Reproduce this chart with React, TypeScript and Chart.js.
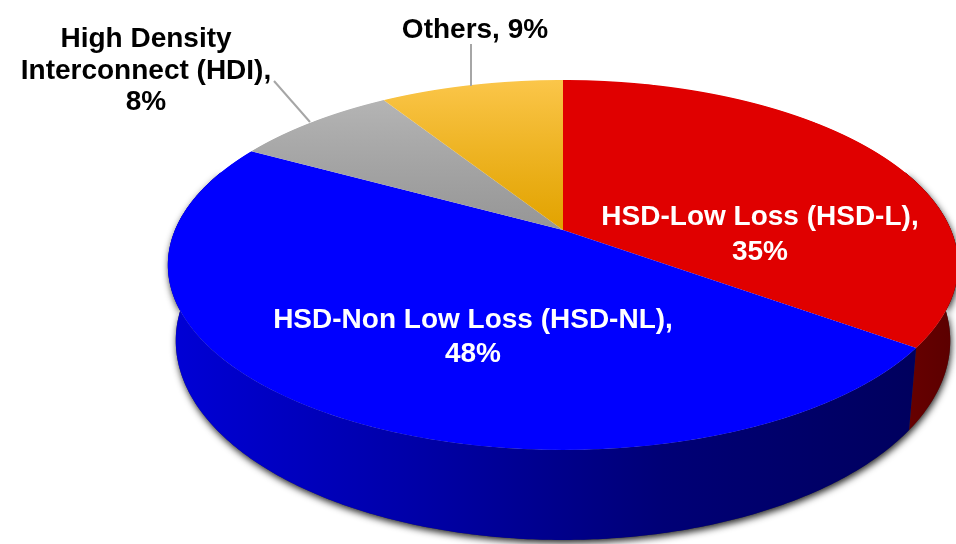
import React, { useEffect, useRef } from "react";
import { Chart, registerables } from "chart.js";

Chart.register(...registerables);

// ---------- data ----------
const categories = [
  "HSD-Low Loss (HSD-L)",
  "HSD-Non Low Loss (HSD-NL)",
  "High Density Interconnect (HDI)",
  "Others",
];
const shares = [35, 48, 8, 9];

// ---------- styles / layout ----------
const W = 956;
const H = 544;
const TOP_COLORS = [
  ["#e00000", "#e00000"],
  ["#0000ff", "#0000ff"],
  ["#bababa", "#969696"],
  ["#fbc64a", "#e2a300"],
];
const SIDE_COLORS = [
  ["#6e0000", "#580000"],
  ["#0000d8", "#0000a8", "#000076", "#00005e"],
];
// perspective projection of the unit disc: y(v) = (A v + B) / (C v + 1)
const CX = 563;
const PA = 134.9;
const PB = 230;
const PC = -0.189;
const RX = 388;
const DEPTH = 73;
const BOTTOM_SCALE = 0.98;

// label layout: centre x, first baseline, line height, colour, line split mode
const LABEL_LAYOUT = [
  { x: 760, y: 225, lh: 35, color: "#ffffff", mode: "two" },
  { x: 473, y: 328, lh: 34, color: "#ffffff", mode: "two" },
  { x: 146, y: 47, lh: 31.5, color: "#000000", mode: "three" },
  { x: 475, y: 38, lh: 30, color: "#000000", mode: "one" },
];
const LEADERS = [
  [null],
  [null],
  [274, 81, 310, 122],
  [471, 44, 471, 86],
];

function proj(u: number, v: number) {
  const d = 1 + PC * v;
  return { x: CX + (RX * u) / d, y: (PA * v + PB) / d };
}
function invY(y: number) {
  return (PB - y) / (y * PC - PA);
}

function labelLines(i: number): string[] {
  const cat = categories[i];
  const pct = `${shares[i]}%`;
  const mode = LABEL_LAYOUT[i].mode;
  if (mode === "one") return [`${cat}, ${pct}`];
  if (mode === "three") {
    const w = cat.split(" ");
    return [w.slice(0, 2).join(" "), w.slice(2).join(" ") + ",", pct];
  }
  return [`${cat},`, pct];
}

const pie3d = {
  id: "pie3d",
  beforeDatasetsDraw(chart: any) {
    const ctx: CanvasRenderingContext2D = chart.ctx;
    const meta = chart.getDatasetMeta(0);
    const arcs: any[] = meta.data;
    if (!arcs.length) return false;
    const pcx = arcs[0].x;
    const pcy = arcs[0].y;
    const R = arcs[0].outerRadius;

    const lo = -0.35;
    const hi = Math.PI + 0.35;
    const sidePath = (a1: number, a2: number) => {
      const n = Math.max(2, Math.ceil((a2 - a1) / 0.01));
      ctx.beginPath();
      for (let i = 0; i <= n; i++) {
        const t = a1 + ((a2 - a1) * i) / n;
        const p = proj(Math.cos(t), Math.sin(t));
        if (i === 0) ctx.moveTo(p.x, p.y);
        else ctx.lineTo(p.x, p.y);
      }
      for (let i = n; i >= 0; i--) {
        const t = a1 + ((a2 - a1) * i) / n;
        const v = Math.sin(t);
        const p = proj(Math.cos(t), v);
        const bx = CX + (p.x - CX) * BOTTOM_SCALE;
        ctx.lineTo(bx, p.y + DEPTH / (1 + PC * v));
      }
      ctx.closePath();
    };

    // shadow under the body
    ctx.save();
    ctx.shadowColor = "rgba(0,0,0,0.85)";
    ctx.shadowBlur = 7;
    ctx.shadowOffsetX = 1;
    ctx.shadowOffsetY = 3;
    ctx.fillStyle = "#333";
    sidePath(lo, hi);
    ctx.fill();
    ctx.restore();

    // side walls
    arcs.forEach((arc: any, i: number) => {
      const a1 = Math.max(arc.startAngle, lo);
      const a2 = Math.min(arc.endAngle, hi);
      if (a2 <= a1) return;
      const cols = SIDE_COLORS[i] || ["#444", "#222"];
      const pL = proj(-1, 0.19).x;
      const pR = proj(1, 0.19).x;
      const g = ctx.createLinearGradient(i === 0 ? 880 : pL, 0, i === 0 ? pR : 915, 0);
      cols.forEach((c, k) => g.addColorStop(k / (cols.length - 1), c));
      ctx.save();
      ctx.fillStyle = g;
      sidePath(a1, a2);
      ctx.fill();
      ctx.restore();
    });

    // top face, drawn row by row through the perspective mapping
    const yTop = proj(0, -1).y;
    const yBot = proj(0, 1).y;
    for (let ys = Math.floor(yTop) - 1; ys <= Math.ceil(yBot) + 1; ys++) {
      const v0 = invY(ys);
      const v1 = invY(ys + 1);
      const vm = (v0 + v1) / 2;
      const sx = RX / (1 + PC * vm) / R;
      const sy = 1 / ((v1 - v0) * R);
      ctx.save();
      ctx.beginPath();
      ctx.rect(0, ys, W, 1);
      ctx.clip();
      ctx.transform(sx, 0, 0, sy, CX - pcx * sx, ys - (pcy + v0 * R) * sy);
      arcs.forEach((a: any) => a.draw(ctx));
      ctx.restore();
    }
    return false;
  },
  afterDraw(chart: any) {
    const ctx: CanvasRenderingContext2D = chart.ctx;
    ctx.save();
    ctx.strokeStyle = "#a6a6a6";
    ctx.lineWidth = 2;
    LEADERS.forEach((l) => {
      if (l[0] === null) return;
      const [x1, y1, x2, y2] = l as number[];
      ctx.beginPath();
      ctx.moveTo(x1, y1);
      ctx.lineTo(x2, y2);
      ctx.stroke();
    });
    ctx.font = 'bold 28px "Liberation Sans", Arial, sans-serif';
    ctx.textAlign = "center";
    ctx.textBaseline = "alphabetic";
    LABEL_LAYOUT.forEach((L, i) => {
      ctx.fillStyle = L.color;
      labelLines(i).forEach((t, k) => ctx.fillText(t, L.x, L.y + k * L.lh));
    });
    ctx.restore();
  },
};

export default function App() {
  const ref = useRef<HTMLCanvasElement | null>(null);
  useEffect(() => {
    if (!ref.current) return;
    const chart = new Chart(ref.current, {
      type: "pie",
      data: {
        labels: categories,
        datasets: [
          {
            data: shares,
            borderWidth: 0,
            backgroundColor: (c: any) => {
              const chartObj = c.chart;
              const area = chartObj.chartArea;
              const cols = TOP_COLORS[c.dataIndex] || ["#888", "#888"];
              if (!area) return cols[0];
              if (cols[0] === cols[1]) return cols[0];
              const cy = (area.top + area.bottom) / 2;
              const r = Math.min(area.right - area.left, area.bottom - area.top) / 2;
              const g = chartObj.ctx.createLinearGradient(0, cy - r, 0, cy);
              g.addColorStop(0, cols[0]);
              g.addColorStop(1, cols[1]);
              return g;
            },
          },
        ],
      },
      options: {
        animation: false,
        responsive: true,
        maintainAspectRatio: false,
        layout: { padding: 0 },
        plugins: {
          legend: { display: false },
          tooltip: { enabled: false },
        },
        events: [],
      },
      plugins: [pie3d],
    });
    return () => chart.destroy();
  }, []);
  return (
    <div
      style={{
        position: "fixed",
        left: 0,
        top: 0,
        width: W,
        height: H,
        background: "#ffffff",
      }}
    >
      <canvas ref={ref} />
    </div>
  );
}
